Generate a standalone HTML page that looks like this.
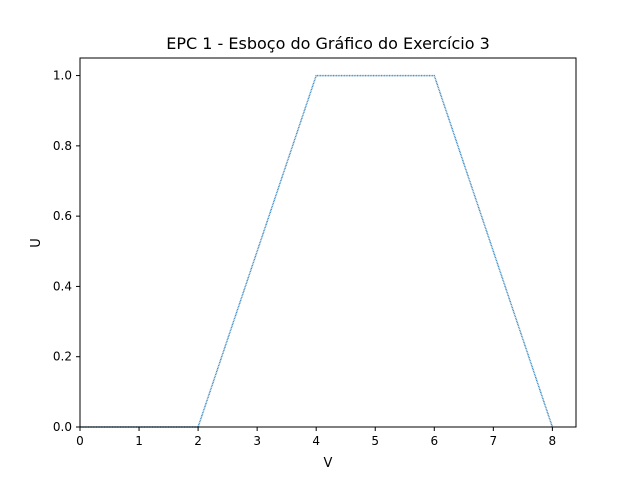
<!DOCTYPE html>
<html><head><meta charset="utf-8"><style>
body{margin:0;background:#fff;}
svg{display:block;font-family:"DejaVu Sans","Liberation Sans",sans-serif;}
</style></head><body>
<svg id="chart" width="640" height="480">
<rect x="0" y="0" width="640" height="480" fill="#fff"/>
<text x="328" y="49" text-anchor="middle" font-size="16" fill="#000">EPC 1 - Esboço do Gráfico do Exercício 3</text>
<g id="xticks"></g>
<g id="yticks"></g>
<g id="series"></g>
<rect x="80" y="58" width="496" height="369" fill="none" stroke="#000" stroke-width="1"/>
<text x="328" y="467" text-anchor="middle" font-size="13">V</text>
<text transform="translate(40,243) rotate(-90)" text-anchor="middle" font-size="13">U</text>
</svg>
<script>
const xVals=[0,2,4,6,8];
const yVals=[0,0,1,1,0];
const xTickLabels=["0","1","2","3","4","5","6","7","8"];
const yTickLabels=["0.0","0.2","0.4","0.6","0.8","1.0"];
const X0=80,X1=576,Y0=427,Y1=58,xMax=8.4,yMax=1.05;
const sx=v=>X0+(v/xMax)*(X1-X0);
const sy=v=>Y0-(v/yMax)*(Y0-Y1);
const NS="http://www.w3.org/2000/svg";
function mk(t,a,p){const e=document.createElementNS(NS,t);for(const k in a)e.setAttribute(k,a[k]);p.appendChild(e);return e;}
const xg=document.getElementById('xticks'),yg=document.getElementById('yticks'),sg=document.getElementById('series');
xTickLabels.forEach(l=>{const x=sx(parseFloat(l));
const t=mk('line',{x1:x,x2:x,y1:Y0,y2:Y0+4,stroke:'#000'},xg);


const tx=mk('text',{x:x,y:Y0+18,'text-anchor':'middle','font-size':12},xg);tx.textContent=l;

});
yTickLabels.forEach(l=>{const y=sy(parseFloat(l));
const t=mk('line',{x1:X0-4,x2:X0,y1:y,y2:y,stroke:'#000'},yg);


const tx=mk('text',{x:X0-8,y:y+4,'text-anchor':'end','font-size':12},yg);tx.textContent=l;

});
const pts=xVals.map((v,i)=>sx(v)+','+sy(yVals[i])).join(' ');
const pl=mk('polyline',{points:pts,fill:'none',stroke:'#1f77b4','stroke-width':1.5,'stroke-dasharray':'1 0.6','stroke-opacity':0.85},sg);


</script>
</body></html>
